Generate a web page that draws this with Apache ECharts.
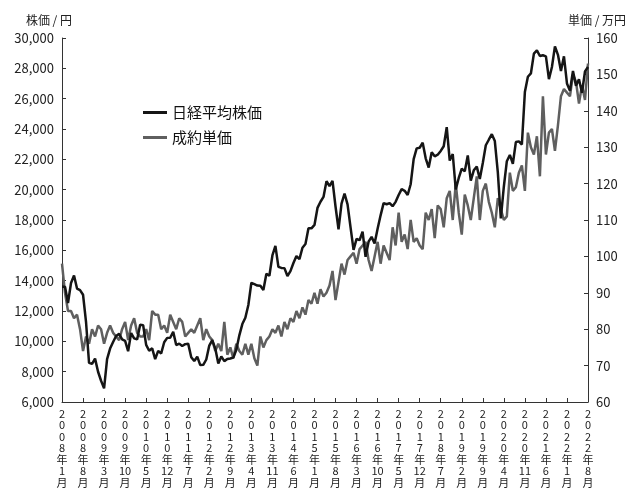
<!DOCTYPE html>
<html><head><meta charset="utf-8">
<script src="https://cdn.jsdelivr.net/npm/echarts@6/dist/echarts.min.js"></script>
<style>html,body{margin:0;background:#fff}#chart{width:640px;height:498px}</style>
</head><body><div id="chart"></div>
<script>
// 月次データ 2008年1月〜2022年8月
var months = [];
for (var y = 2008; y <= 2022; y++) {
  for (var m = 1; m <= 12; m++) {
    if (y === 2022 && m > 8) break;
    months.push(y + '年' + m + '月');
  }
}

var nikkei = [
  13592, 13603, 12525, 13849, 14338, 13481, 13376, 13072, 11259, 8576, 8512, 8859,
  7994, 7400, 6900, 8828, 9522, 9958, 10356, 10492, 10133, 10034, 9345, 10546,
  10198, 10126, 11089, 11057, 9768, 9382, 9537, 8824, 9369, 9202, 9937, 10228,
  10237, 10624, 9755, 9849, 9693, 9816, 9833, 8955, 8700, 8988, 8434, 8455,
  8802, 9723, 10083, 9520, 8542, 9006, 8695, 8839, 8870, 8928, 9446, 10395,
  11138, 11559, 12397, 13860, 13774, 13677, 13668, 13388, 14455, 14327, 15661, 16291,
  14914, 14841, 14827, 14304, 14632, 15162, 15620, 15424, 16173, 16413, 17459, 17450,
  17674, 18797, 19206, 19520, 20563, 20235, 20585, 18890, 17388, 19083, 19747, 19033,
  17518, 16026, 16758, 16666, 17234, 15575, 16569, 16887, 16449, 17425, 18308, 19114,
  19041, 19118, 18909, 19196, 19650, 20033, 19925, 19646, 20356, 22011, 22724, 22764,
  23098, 22068, 21454, 22467, 22201, 22304, 22553, 22865, 24120, 21920, 22351, 20014,
  20773, 21385, 21205, 22258, 20601, 21275, 21521, 20704, 21755, 22927, 23293, 23656,
  23205, 21142, 18100, 20193, 21877, 22288, 21710, 23139, 23185, 22977, 26433, 27444,
  27663, 28966, 29178, 28812, 28860, 28791, 27283, 28089, 29452, 28892, 27821, 28791,
  27001, 26526, 27821, 26847, 27279, 26393, 27801, 28091
];

var unitPrice = [
  98, 90, 85, 85, 83, 84, 80, 74, 78, 76, 80, 78,
  81, 80, 76, 79, 81, 79, 78, 77, 80, 82, 77, 81,
  83, 79, 78, 78, 80, 77, 85, 84, 84, 80, 81, 79,
  84, 82, 80, 83, 82, 78, 79, 80, 79, 81, 83, 77,
  80, 78, 77, 74, 76, 74, 82, 73, 75, 72, 76, 74,
  73, 76, 73, 76, 72, 70, 78, 75, 77, 78, 80, 79,
  81, 78, 82, 80, 83, 82, 85, 83, 86, 84, 88, 87,
  90, 87, 91, 89, 90, 92, 96, 88, 93, 98, 95, 99,
  100, 101, 98, 102, 103, 104, 99, 96, 100, 104, 98, 103,
  101, 99, 108, 103, 112, 104, 106, 102, 110, 104, 105, 103,
  102, 112, 110, 113, 105, 114, 113, 108, 116, 118, 110, 120,
  112, 106, 117, 114, 110, 116, 122, 110, 118, 120, 115, 112,
  108, 116, 113, 110, 111, 123, 118, 119, 123, 125, 118, 134,
  130, 128, 133, 122, 144, 128, 134, 135, 129, 136, 144, 146,
  145, 144, 150, 148, 142, 147, 143, 153
];

var font = '"Noto Sans CJK JP", sans-serif';
var chart = echarts.init(document.getElementById('chart'));
chart.setOption({
  animation: false,
  textStyle: { fontFamily: font },
  grid: { left: 62, right: 52, top: 38, bottom: 96 },
  legend: {
    left: 138, top: 100, orient: 'vertical', itemGap: 10,
    itemWidth: 24, itemHeight: 3,
    textStyle: { fontSize: 15, color: '#111', fontFamily: font },
    data: [
      { name: '日経平均株価', icon: 'rect' },
      { name: '成約単価', icon: 'rect' }
    ]
  },
  xAxis: {
    type: 'category', data: months, boundaryGap: false,
    axisLine: { lineStyle: { color: '#333' } },
    axisTick: { interval: 6, inside: true, length: 4, lineStyle: { color: '#333' } },
    axisLabel: {
      interval: 6, color: '#222', fontSize: 11, lineHeight: 11.5, margin: 6,
      formatter: function (v) {
        var p = v.match(/(\d{4})年(\d+)月/);
        return p[1].split('').concat(['年', p[2], '月']).join('\n');
      }
    }
  },
  yAxis: [{
    type: 'value', min: 6000, max: 30000, interval: 2000,
    name: '株価 / 円', nameGap: 12,
    nameTextStyle: { color: '#222', fontSize: 12, align: 'right', padding: [0, -10, 0, 0] },
    axisLine: { show: true, lineStyle: { color: '#333' } },
    axisTick: { show: true, inside: true, length: 4 },
    axisLabel: { color: '#222', fontSize: 13 },
    splitLine: { show: false }
  }, {
    type: 'value', min: 60, max: 160, interval: 10,
    name: '単価 / 万円', nameGap: 12,
    nameTextStyle: { color: '#222', fontSize: 12, align: 'left', padding: [0, 0, 0, -20] },
    axisLine: { show: true, lineStyle: { color: '#333' } },
    axisTick: { show: true, inside: true, length: 4 },
    axisLabel: { color: '#222', fontSize: 13 },
    splitLine: { show: false }
  }],
  series: [{
    name: '成約単価', type: 'line', yAxisIndex: 1, data: unitPrice,
    symbol: 'none', lineStyle: { color: '#5f5f5f', width: 2.5 }, itemStyle: { color: '#5f5f5f' }
  }, {
    name: '日経平均株価', type: 'line', yAxisIndex: 0, data: nikkei,
    symbol: 'none', lineStyle: { color: '#151515', width: 2.5 }, itemStyle: { color: '#151515' }
  }]
});
</script>
</body></html>
